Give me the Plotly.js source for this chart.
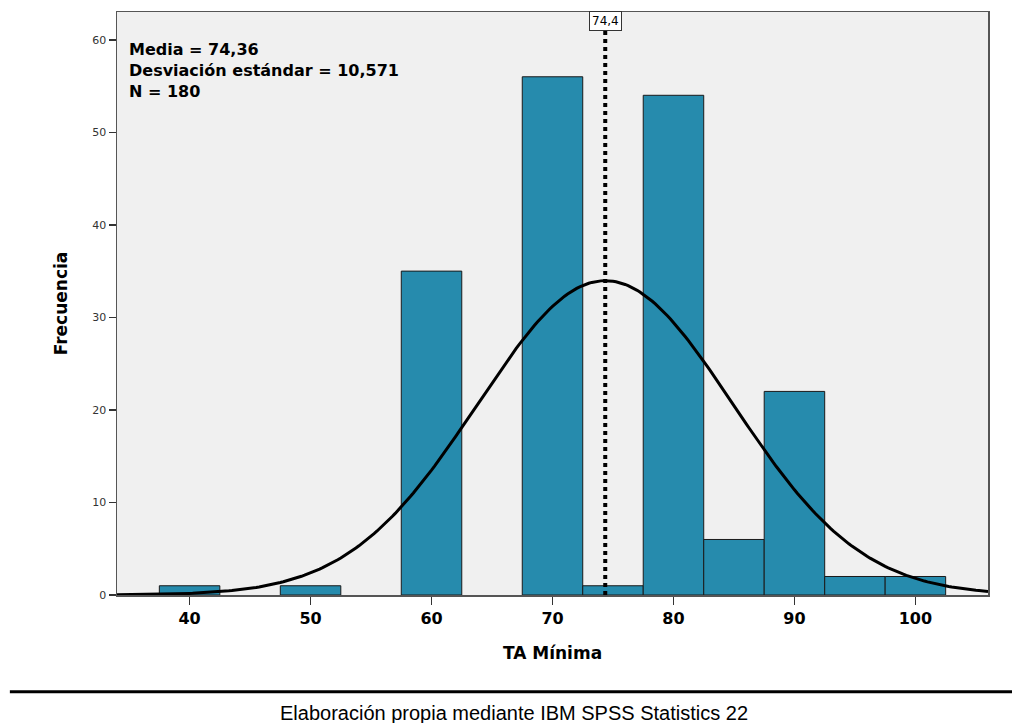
<!DOCTYPE html>
<html><head><meta charset="utf-8">
<script src="https://cdn.plot.ly/plotly-3.0.1.min.js"></script>
<style>body{margin:0;background:#fff;}#chart{width:1012px;height:723px;}</style>
</head><body><div id="chart"></div>
<script>
var binCenters = [40, 50, 60, 70, 75, 80, 85, 90, 95, 100];
var binCounts  = [1, 1, 35, 56, 1, 54, 6, 22, 2, 2];
var binWidth = 5;
var meanVal = 74.36;
var sdVal = 10.571;
var nVal = 180;
var meanLabel = "74,4";
var statLines = ["Media = 74,36", "Desviación estándar = 10,571", "N = 180"];
var xTicks = [40, 50, 60, 70, 80, 90, 100];
var yTicks = [0, 10, 20, 30, 40, 50, 60];

// fitted normal curve (defined by the stated mean, sd and N)
var cx = [], cy = [];
for (var x = 34; x <= 106.001; x += 0.25) {
  cx.push(x);
  cy.push(nVal * binWidth * Math.exp(-0.5 * Math.pow((x - meanVal) / sdVal, 2)) / (sdVal * Math.sqrt(2 * Math.PI)));
}

var traces = [
  {type:'bar', x:binCenters, y:binCounts, width:binWidth,
   marker:{color:'#268bad', line:{color:'#1a1a1a', width:1}}, hoverinfo:'x+y'},
  {type:'scatter', mode:'lines', x:cx, y:cy, line:{color:'#000', width:3}, hoverinfo:'skip'},
  {type:'scatter', mode:'lines', x:[meanVal, meanVal], y:[0, 63], line:{color:'#000', width:4, dash:'dot'}, hoverinfo:'skip'}
];

var layout = {
  width:1012, height:723,
  margin:{l:117, r:24, t:12, b:128},
  paper_bgcolor:'#fff', plot_bgcolor:'#f0f0f0',
  showlegend:false, bargap:0,
  font:{family:'"DejaVu Sans", sans-serif', color:'#000'},
  xaxis:{range:[34,106], tickvals:xTicks, ticktext:xTicks.map(String),
    ticks:'outside', ticklen:8, tickwidth:1.5, tickcolor:'#333',
    tickfont:{size:16, family:'"DejaVu Sans", sans-serif', weight:'bold'},
    showgrid:false, zeroline:false, showline:true, linecolor:'#555', linewidth:1.5, mirror:true,
    title:{text:'<b>TA Mínima</b>', font:{size:17}, standoff:20}},
  yaxis:{range:[0,63], tickvals:yTicks, ticktext:yTicks.map(String),
    ticks:'outside', ticklen:7, tickwidth:1.5, tickcolor:'#333',
    tickfont:{size:11, color:'#333'},
    showgrid:false, zeroline:false, showline:true, linecolor:'#555', linewidth:1.5, mirror:true,
    title:{text:'<b>Frecuencia</b>', font:{size:17}, standoff:20}},
  annotations:[
    {xref:'paper', yref:'paper', x:0.012, y:0.955, xanchor:'left', yanchor:'top', align:'left',
     text:'<b>' + statLines.join('<br>') + '</b>', showarrow:false,
     font:{size:16, family:'"DejaVu Sans", sans-serif'}},
    {xref:'x', yref:'paper', x:meanVal, y:0.985, xanchor:'center', yanchor:'middle',
     text:meanLabel, showarrow:false, bgcolor:'#fff', bordercolor:'#333', borderwidth:1, borderpad:2,
     font:{size:12, color:'#000'}},
    {xref:'paper', yref:'paper', x:0.456, xanchor:'center', y:-0.202, yanchor:'middle',
     text:'Elaboración propia mediante IBM SPSS Statistics 22', showarrow:false,
     font:{size:20, family:'"Liberation Sans", Arial, sans-serif'}}
  ],
  shapes:[
    {type:'line', xref:'paper', yref:'paper', x0:-0.123, x1:1.05, y0:-0.166, y1:-0.166, line:{color:'#000', width:3}}
  ]
};
Plotly.newPlot('chart', traces, layout, {displayModeBar:false, staticPlot:true});
</script></body></html>
